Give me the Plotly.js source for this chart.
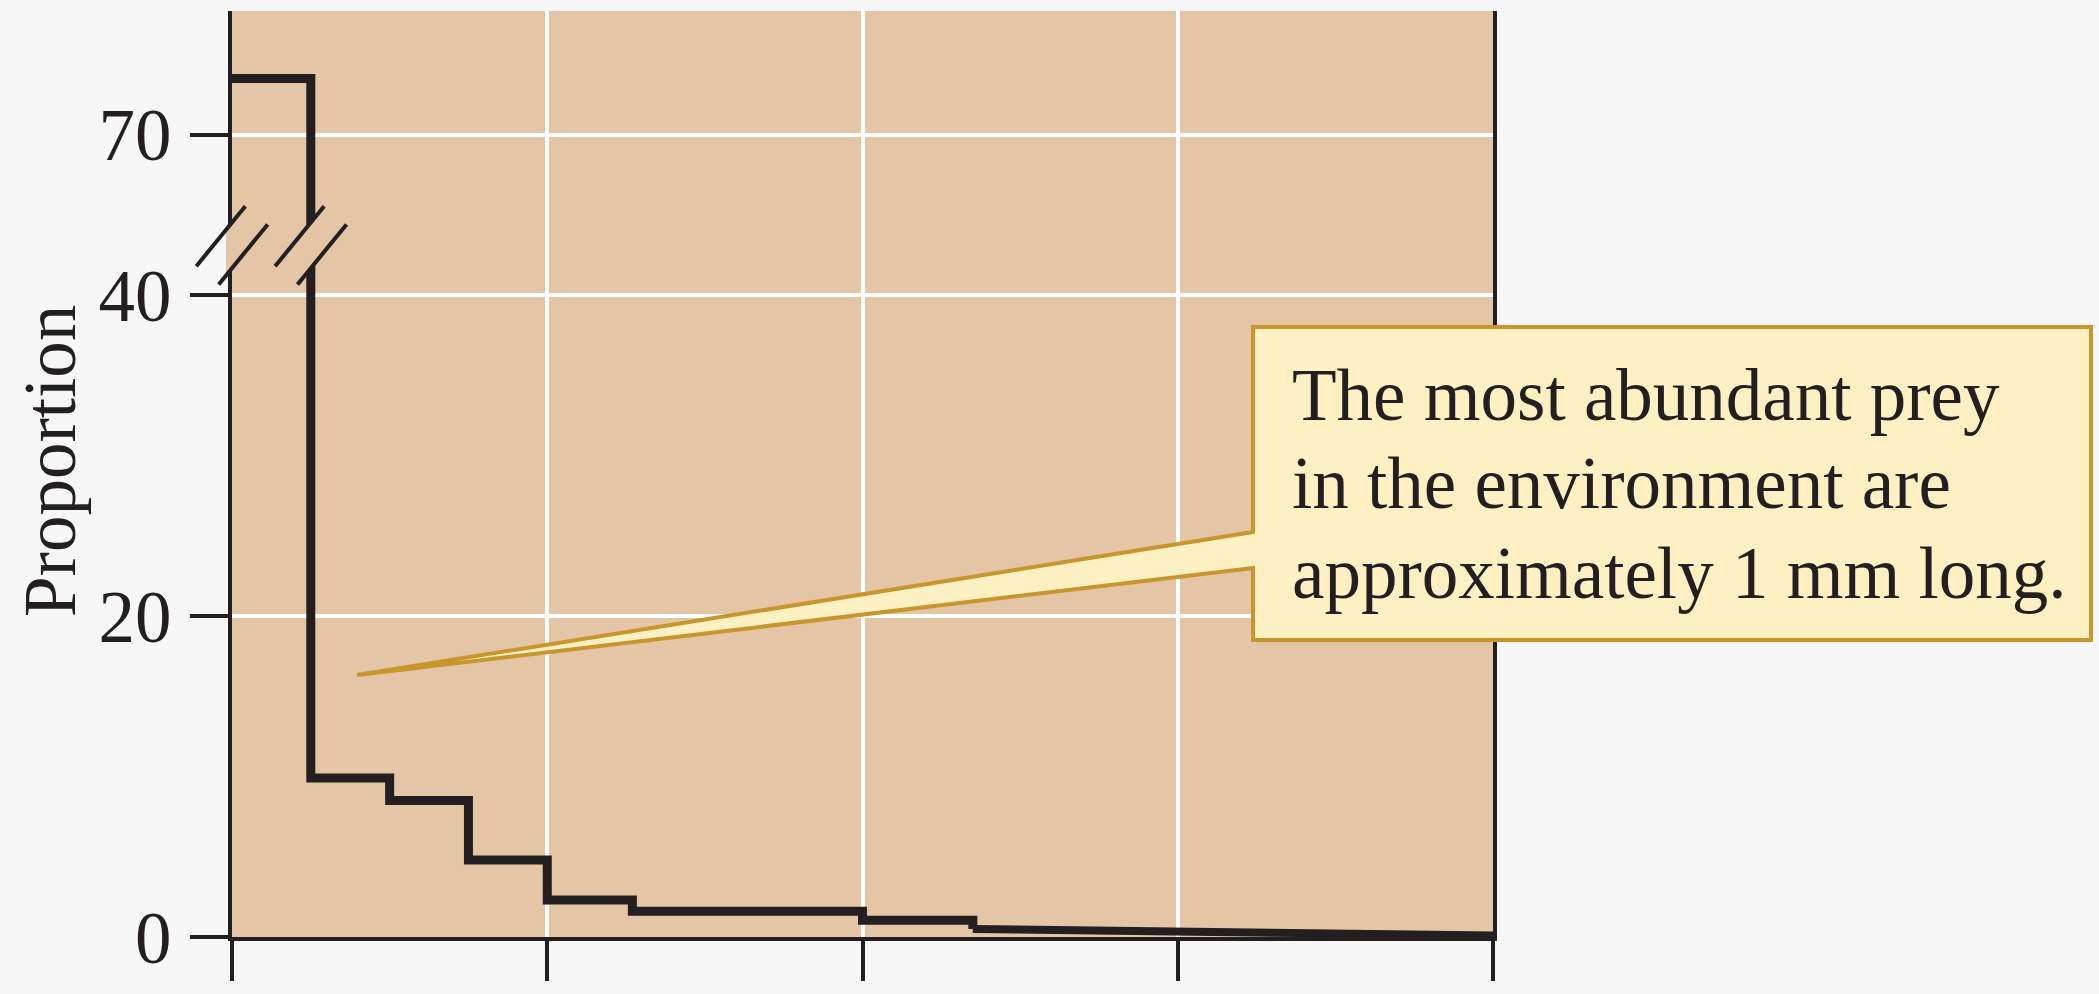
<!DOCTYPE html>
<html>
<head>
<meta charset="utf-8">
<script src="https://cdn.plot.ly/plotly-3.0.1.min.js"></script>
<style>
html,body{margin:0;padding:0;background:#F7F7F7;}
#chart{width:2099px;height:994px;}
</style>
</head>
<body>
<div id="chart"></div>
<script>
// ---- data ----
var stepEdges = [0, 0.25, 0.5, 0.75, 1.0, 1.27, 2.0, 2.35];
var stepValues = [73.5, 9.9, 8.5, 4.8, 2.3, 1.6, 1.05, 0.5];
var tailX = [2.35, 3.0, 4.0];
var tailValues = [0.5, 0.3, 0.1];
var yTickValues = [0, 20, 40, 70];
var yTickLabels = ['0', '20', '40', '70'];
var xTickValues = [0, 1, 2, 3, 4];
var yTitle = 'Proportion';
var calloutLines = ['The most abundant prey', 'in the environment are', 'approximately 1 mm long.'];

// ---- broken axis mapping ----
var BREAK_AT = 43;     // values above this are shifted down
var BREAK_GAP = 20;
function disp(v){ return v > BREAK_AT ? v - BREAK_GAP : v; }
var Y_MAX = 57.7;
var X_MAX = 4;

var W = 2099, H = 994;
var M = {l: 232, r: 606, t: 11, b: 57};
var PW = W - M.l - M.r, PH = H - M.t - M.b;
function px(x){ return (x - M.l) / PW; }
function py(y){ return (H - M.b - y) / PH; }

var serif = 'Liberation Serif, Times New Roman, serif';
var ink = '#231F20';
var plotBg = '#E4C5A5';
var calloutFill = '#FDF1C4';
var calloutLine = '#C8962C';

var traces = [
  {x: stepEdges, y: stepValues.map(disp), mode: 'lines', line: {shape: 'hv', color: ink, width: 9}, hoverinfo: 'skip', showlegend: false},
  {x: tailX, y: tailValues.map(disp), mode: 'lines', line: {color: ink, width: 8}, hoverinfo: 'skip', showlegend: false}
];

// break marks (pixel-sized shapes anchored at the break on each vertical line)
var breakPaperY = 43.1 / Y_MAX;
function breakShapes(xPaper, half){
  var s = [];
  function ya(x){ return 9.1 + 1.224*(x + 11.2); }
  function yb(x){ return -9.1 + 1.224*(x - 11.2); }
  s.push({type: 'path', xref: 'paper', yref: 'paper', xsizemode: 'pixel', ysizemode: 'pixel',
    xanchor: xPaper, yanchor: breakPaperY,
    path: 'M ' + (-half) + ',' + ya(-half) + ' L ' + half + ',' + ya(half) + ' L ' + half + ',' + yb(half) + ' L ' + (-half) + ',' + yb(-half) + ' Z',
    fillcolor: plotBg, line: {width: 0}, layer: 'above'});
  s.push({type: 'path', xref: 'paper', yref: 'paper', xsizemode: 'pixel', ysizemode: 'pixel',
    xanchor: xPaper, yanchor: breakPaperY, path: 'M -35.7,-20.9 L 13.3,39.1', line: {color: ink, width: 4}, layer: 'above'});
  s.push({type: 'path', xref: 'paper', yref: 'paper', xsizemode: 'pixel', ysizemode: 'pixel',
    xanchor: xPaper, yanchor: breakPaperY, path: 'M -13.3,-39.1 L 35.7,20.9', line: {color: ink, width: 4}, layer: 'above'});
  return s;
}

var shapes = [];
var calloutPath = 'M ' + px(357) + ',' + py(675) +
  ' L ' + px(1253) + ',' + py(532) +
  ' L ' + px(1253) + ',' + py(327) +
  ' L ' + px(2091) + ',' + py(327) +
  ' L ' + px(2091) + ',' + py(640) +
  ' L ' + px(1253) + ',' + py(640) +
  ' L ' + px(1253) + ',' + py(568) + ' Z';
shapes = shapes.concat(breakShapes(0, 6), breakShapes(stepEdges[1] / X_MAX, 8));
shapes.push({type: 'path', xref: 'paper', yref: 'paper', path: calloutPath, fillcolor: calloutFill, line: {color: calloutLine, width: 4}, layer: 'above'});

var baselines = [420, 508, 597];
var annotations = calloutLines.map(function(t, i){
  return {text: t, xref: 'paper', yref: 'paper', x: px(1290), y: py(baselines[i] - 24),
    xanchor: 'left', yanchor: 'middle', showarrow: false, align: 'left',
    font: {family: serif, size: 73, color: ink}};
});
// y-axis title (placed as rotated text next to the tick labels)
annotations.push({text: yTitle, xref: 'paper', yref: 'paper', x: px(50), y: py(461),
  xanchor: 'center', yanchor: 'middle', textangle: -90, showarrow: false,
  font: {family: serif, size: 73, color: ink}});

var layout = {
  width: W, height: H,
  margin: M,
  paper_bgcolor: '#F7F7F7',
  plot_bgcolor: plotBg,
  showlegend: false,
  xaxis: {range: [0, X_MAX], tickvals: xTickValues, showticklabels: false,
    ticks: 'outside', ticklen: 40, tickwidth: 4, tickcolor: ink,
    showline: true, linecolor: ink, linewidth: 4, mirror: false,
    showgrid: true, gridcolor: '#FFFFFF', gridwidth: 4, zeroline: false, fixedrange: true},
  yaxis: {range: [0, Y_MAX], tickvals: yTickValues.map(disp), ticktext: yTickLabels,
    ticks: 'outside', ticklen: 38, tickwidth: 4, tickcolor: ink, ticklabelstandoff: 4,
    tickfont: {family: serif, size: 73, color: ink},
    showline: true, linecolor: ink, linewidth: 4, mirror: true,
    showgrid: true, gridcolor: '#FFFFFF', gridwidth: 4, zeroline: false, fixedrange: true},
  shapes: shapes,
  annotations: annotations
};

Plotly.newPlot('chart', traces, layout, {staticPlot: true, displayModeBar: false});
</script>
</body>
</html>
